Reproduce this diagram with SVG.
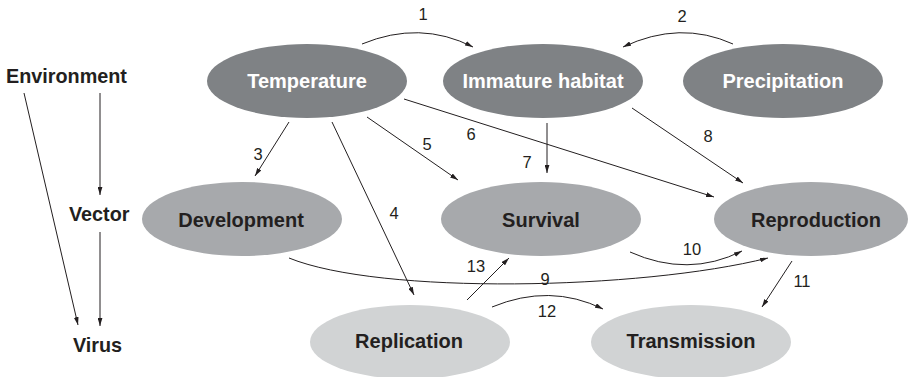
<svg xmlns="http://www.w3.org/2000/svg" width="909" height="377" viewBox="0 0 909 377">
<defs>
<marker id="ah" viewBox="0 0 10 6" refX="10" refY="3" markerWidth="8" markerHeight="5" markerUnits="userSpaceOnUse" orient="auto">
<path d="M0,0 L10,3 L0,6 Z" fill="#231f20"/>
</marker>
</defs>
<style>
.dark{fill:#7f8285}
.mid{fill:#a7a9ac}
.light{fill:#d1d3d4}
.nt{font-family:"Liberation Sans",Arial,sans-serif;font-weight:bold;font-size:20px;text-anchor:middle}
.w{fill:#ffffff}
.k{fill:#231f20}
.lab{font-family:"Liberation Sans",Arial,sans-serif;font-weight:bold;font-size:19.8px;fill:#231f20}
.num{font-family:"Liberation Sans",Arial,sans-serif;font-size:16.5px;fill:#231f20;text-anchor:middle}
.c{fill:none;stroke:#231f20;stroke-width:1;marker-end:url(#ah)}
</style>
<rect width="909" height="377" fill="#ffffff"/>
<g id="levels">
<text class="lab" x="6" y="83">Environment</text>
<text class="lab" x="69" y="221">Vector</text>
<text class="lab" x="73" y="352">Virus</text>
</g>
<g id="temperature"><ellipse class="dark" cx="307" cy="81" rx="100" ry="37"/><text class="nt w" x="307" y="88">Temperature</text></g>
<g id="immature-habitat"><ellipse class="dark" cx="543" cy="81" rx="100" ry="37"/><text class="nt w" x="543" y="88">Immature habitat</text></g>
<g id="precipitation"><ellipse class="dark" cx="783" cy="81" rx="100" ry="37"/><text class="nt w" x="783" y="88">Precipitation</text></g>
<g id="development"><ellipse class="mid" cx="242" cy="219" rx="100" ry="37"/><text class="nt k" x="241" y="227">Development</text></g>
<g id="survival"><ellipse class="mid" cx="541" cy="219" rx="100" ry="37"/><text class="nt k" x="541" y="227">Survival</text></g>
<g id="reproduction"><ellipse class="mid" cx="811" cy="219" rx="97" ry="37"/><text class="nt k" x="816" y="227">Reproduction</text></g>
<g id="replication"><ellipse class="light" cx="410" cy="342" rx="100" ry="37"/><text class="nt k" x="409" y="348">Replication</text></g>
<g id="transmission"><ellipse class="light" cx="691" cy="342" rx="100" ry="37"/><text class="nt k" x="691" y="348">Transmission</text></g>
<g id="connectors">
<path class="c" d="M24,93 L78,325"/>
<path class="c" d="M100,93 L100,195"/>
<path class="c" d="M100,232 L100,326"/>
<path class="c" d="M362,44 Q420,20 473,47"/>
<path class="c" d="M733,44 Q680,20 623,47"/>
<path class="c" d="M289,122 L255,176"/>
<path class="c" d="M332,122 L414,295"/>
<path class="c" d="M367,117 L458,180"/>
<path class="c" d="M404,99 L714,197"/>
<path class="c" d="M547,123 L547,173"/>
<path class="c" d="M632,108 L743,183"/>
<path class="c" d="M289,258 C380,295 640,290 768,258"/>
<path class="c" d="M630,252 Q688,278 742,251"/>
<path class="c" d="M792,261 L762,307"/>
<path class="c" d="M492,307 Q550,283 603,309"/>
<path class="c" d="M467,300 L509,258"/>
<text class="num" x="423" y="20">1</text>
<text class="num" x="682" y="22">2</text>
<text class="num" x="258" y="160">3</text>
<text class="num" x="394" y="219">4</text>
<text class="num" x="427" y="150">5</text>
<text class="num" x="471" y="140">6</text>
<text class="num" x="527" y="168">7</text>
<text class="num" x="708" y="142">8</text>
<text class="num" x="545" y="285">9</text>
<text class="num" x="692" y="255">10</text>
<text class="num" x="802" y="287">11</text>
<text class="num" x="547" y="317">12</text>
<text class="num" x="476" y="272">13</text>
</g>
</svg>
